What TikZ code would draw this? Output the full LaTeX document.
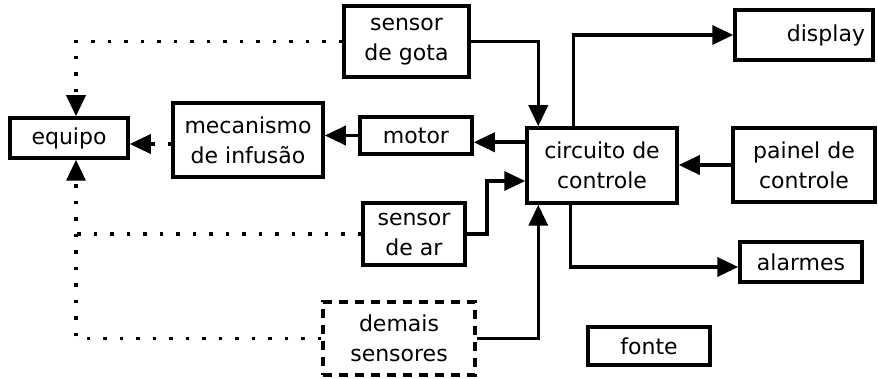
\documentclass[tikz,border=0pt]{standalone}
\usepackage{fontspec}
\setmainfont{DejaVu Sans}
\usetikzlibrary{arrows.meta}
\begin{document}
\begin{tikzpicture}[x=1pt,y=-1pt,
  box/.style={draw,line width=3.5pt,inner sep=0pt,align=center,font=\fontsize{22}{30}\selectfont},
  arr/.style={line width=3.5pt,-{Triangle[length=21pt,width=19pt]}},
  dots/.style={line width=3.5pt,dash pattern=on 3.5pt off 13pt},
  dotarr/.style={line width=3.5pt,dash pattern=on 3.5pt off 13pt,-{Triangle[length=21pt,width=19pt]}}]
\useasboundingbox (0,0) rectangle (878,379);
\node[box,minimum width=125pt,minimum height=71pt] (gota) at (406.5,41.5) {sensor\\de gota};
\node[box,minimum width=118pt,minimum height=40pt] (equipo) at (69,138) {equipo};
\node[box,minimum width=150pt,minimum height=74pt] (mec) at (248,140) {mecanismo\\de infusão};
\node[box,minimum width=112pt,minimum height=37pt] (motor) at (416,135.5) {motor};
\node[box,minimum width=150pt,minimum height=75pt] (circ) at (602,165.5) {circuito de\\controle};
\node[box,minimum width=138pt,minimum height=50pt,text width=122pt,align=right] (disp) at (804,35) {display};
\node[box,minimum width=142pt,minimum height=74pt] (painel) at (804,165) {painel de\\controle};
\node[box,minimum width=122pt,minimum height=40pt] (alarm) at (801,262) {alarmes};
\node[box,minimum width=122pt,minimum height=38pt] (fonte) at (649,346) {fonte};
\node[box,minimum width=102pt,minimum height=62pt] (ar) at (414,234) {sensor\\de ar};
\node[box,dash pattern=on 9pt off 7pt,minimum width=152pt,minimum height=73pt] (demais) at (399,338.5) {demais\\sensores};
\coordinate (eqt) at ([xshift=7pt]equipo.north);
\coordinate (eqb) at ([xshift=7pt]equipo.south);
% solid connectors
\draw[arr] (gota.east) -| ([xshift=13pt]circ.north west);
\draw[arr] ([yshift=-16pt]circ.north west) -- ([yshift=-16pt]circ.north west -| motor.east);
\draw[arr] (motor.west) -- (motor.west -| mec.east);
\draw[arr] (ar.east) -- ([xshift=20pt]ar.east) |- ([yshift=-15.5pt]circ.west);
\draw[arr] (demais.east) -| ([xshift=13pt]circ.south west);
\draw[arr] ([xshift=48pt]circ.north west) |- (disp.west);
\draw[arr] (painel.west) -- (painel.west -| circ.east);
\draw[arr] ([xshift=45pt]circ.south west) |- ([yshift=-5pt]alarm.west);
% dotted connectors
\draw[dotarr] ([yshift=-4pt]mec.west) -- ([yshift=-4pt]mec.west -| equipo.east);
\draw[dotarr] (gota.west) -| (eqt);
\draw[dotarr] (demais.west) -| (eqb);
\draw[dots] (ar.west) -- (ar.west -| eqb);
\end{tikzpicture}
\end{document}
